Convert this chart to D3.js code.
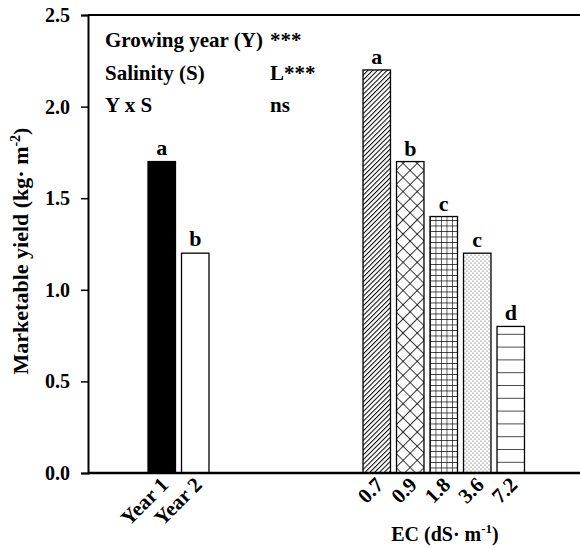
<!DOCTYPE html>
<html><head><meta charset="utf-8">
<script src="https://cdn.jsdelivr.net/npm/d3@7"></script>
<style>
body{margin:0;background:#fff;}
text{font-family:"Liberation Serif","Times New Roman",serif;font-weight:bold;fill:#000;}
</style></head>
<body><svg id="c" width="580" height="548"></svg>
<script>
const yearCats = ["Year 1","Year 2"];
const yearVals = [1.70, 1.20];
const yearLetters = ["a","b"];
const ecCats = ["0.7","0.9","1.8","3.6","7.2"];
const ecVals = [2.20, 1.70, 1.40, 1.20, 0.80];
const ecLetters = ["a","b","c","c","d"];
const yTicks = [0,0.5,1.0,1.5,2.0,2.5];
const annoLabels = ["Growing year (Y)","Salinity (S)","Y x S"];
const annoSig = ["***","L***","ns"];

const svg = d3.select("#c");
const W=580,H=548;
const m={left:88,top:15,right:0,bottom:75};
const y = d3.scaleLinear().domain([0,2.5]).range([H-m.bottom,m.top]);
const xYear = d3.scaleBand().domain(yearCats).range([145,212]).paddingInner(0.18).paddingOuter(0.09);
const xEC = d3.scaleBand().domain(ecCats).range([360,527.5]).paddingInner(0.18).paddingOuter(0.09);

// patterns
const defs = svg.append("defs");
function pat(id,w,h,tr){const p=defs.append("pattern").attr("id",id).attr("patternUnits","userSpaceOnUse").attr("width",w).attr("height",h);if(tr)p.attr("patternTransform",tr);p.append("rect").attr("width",w).attr("height",h).attr("fill","#fff");return p;}
let p1=pat("diag",3.4,3.4,"rotate(45)");
p1.append("line").attr("x1",0.5).attr("x2",0.5).attr("y1",0).attr("y2",3.4).attr("stroke","#000").attr("stroke-width",1);
let p2=pat("cross",10,10,"rotate(45)");
p2.append("path").attr("d","M0,0V10M0,0H10").attr("stroke","#000").attr("stroke-width",1.6).attr("fill","none");
let p3=pat("grid",5.5,5.5,"translate(1,0)");
p3.append("path").attr("d","M0,0V5.5M0,0H5.5").attr("stroke","#000").attr("stroke-width",1.2).attr("fill","none");
let p4=pat("dots",4,4);
p4.append("circle").attr("cx",1).attr("cy",1).attr("r",0.55).attr("fill","#333");
p4.append("circle").attr("cx",3).attr("cy",3).attr("r",0.55).attr("fill","#333");
let p5=pat("hlines",10,12.8,"translate(0,1)");
p5.append("line").attr("x1",0).attr("x2",10).attr("y1",0).attr("y2",0).attr("stroke","#000").attr("stroke-width",1.4);
const ecFills=["url(#diag)","url(#cross)","url(#grid)","url(#dots)","url(#hlines)"];
const yearFills=["#000","#fff"];

// axes
const yAxis = d3.axisLeft(y).tickValues(yTicks).tickFormat(d3.format(".1f")).tickSize(7).tickPadding(11);
const gy = svg.append("g").attr("transform",`translate(${m.left},0)`).call(yAxis);
gy.select(".domain").attr("stroke","#000").attr("stroke-width",2);
gy.selectAll(".tick line").attr("stroke","#000").attr("stroke-width",1.5);
gy.selectAll(".tick text").style("font-size","20px").attr("font-family",null);
svg.append("line").attr("x1",m.left).attr("x2",W).attr("y1",y(2.5)).attr("y2",y(2.5)).attr("stroke","#000").attr("stroke-width",2);

// bars
const gb = svg.append("g");
gb.selectAll("rect.yr").data(yearVals).join("rect").attr("class","yr")
  .attr("x",(d,i)=>xYear(yearCats[i])).attr("width",xYear.bandwidth())
  .attr("y",d=>y(d)).attr("height",d=>y(0)-y(d))
  .attr("fill",(d,i)=>yearFills[i]).attr("stroke","#000").attr("stroke-width",1.3);
gb.selectAll("rect.ec").data(ecVals).join("rect").attr("class","ec")
  .attr("x",(d,i)=>xEC(ecCats[i])).attr("width",xEC.bandwidth())
  .attr("y",d=>y(d)).attr("height",d=>y(0)-y(d))
  .attr("fill",(d,i)=>ecFills[i]).attr("stroke","#000").attr("stroke-width",1.3);

// letters
gb.selectAll("text.yl").data(yearVals).join("text").attr("class","yl")
  .attr("x",(d,i)=>xYear(yearCats[i])+xYear.bandwidth()/2).attr("y",d=>y(d)-7)
  .attr("text-anchor","middle").style("font-size","22px").text((d,i)=>yearLetters[i]);
gb.selectAll("text.el").data(ecVals).join("text").attr("class","el")
  .attr("x",(d,i)=>xEC(ecCats[i])+xEC.bandwidth()/2).attr("y",d=>y(d)-6)
  .attr("text-anchor","middle").style("font-size","22px").text((d,i)=>ecLetters[i]);

svg.append("line").attr("x1",m.left).attr("x2",W).attr("y1",y(0)).attr("y2",y(0)).attr("stroke","#000").attr("stroke-width",2.5);

// x tick labels (rotated)
function rotLabels(scale){
  const g = svg.append("g").attr("transform",`translate(0,${y(0)})`).call(d3.axisBottom(scale).tickSize(0).tickPadding(0));
  g.select(".domain").remove();
  g.selectAll(".tick text").attr("font-family",null).style("font-size","21px")
    .attr("text-anchor","end").attr("dy",null).attr("y",0)
    .attr("transform","translate(8,13) rotate(-45)");
}
rotLabels(xYear);
rotLabels(xEC);

// axis titles
const yt = svg.append("text").attr("transform","translate(28,251) rotate(-90)").attr("text-anchor","middle").style("font-size","22px");
yt.append("tspan").text("Marketable yield (kg\u00B7 m");
yt.append("tspan").attr("dy",-8).style("font-size","14px").text("-2");
yt.append("tspan").attr("dy",8).text(")");
const xt = svg.append("text").attr("x",445).attr("y",541).attr("text-anchor","middle").style("font-size","20px");
xt.append("tspan").text("EC (dS\u00B7 m");
xt.append("tspan").attr("dy",-8).style("font-size","13px").text("-1");
xt.append("tspan").attr("dy",8).text(")");

// annotations
const ga = svg.append("g");
ga.selectAll("text.al").data(annoLabels).join("text").attr("class","al")
  .attr("x",105).attr("y",(d,i)=>47+i*32.5).style("font-size","21px").text(d=>d);
ga.selectAll("text.as").data(annoSig).join("text").attr("class","as")
  .attr("x",270).attr("y",(d,i)=>47+i*32.5).style("font-size","21px").text(d=>d);
</script></body></html>
